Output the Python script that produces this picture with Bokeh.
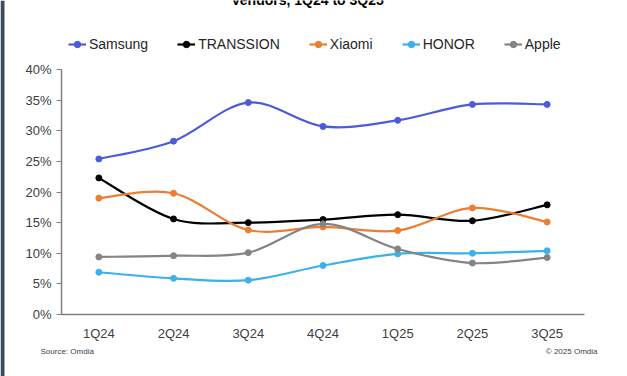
from bokeh.plotting import figure
from bokeh.models import (ColumnDataSource, Range1d, FixedTicker, NumeralTickFormatter,
                          Legend, LegendItem, Label, LinearAxis, BoxAnnotation)
from bokeh.embed import file_html
from bokeh.resources import INLINE

quarters = ["1Q24", "2Q24", "3Q24", "4Q24", "1Q25", "2Q25", "3Q25"]
samsung = [0.254, 0.283, 0.346, 0.307, 0.317, 0.343, 0.343]
transsion = [0.223, 0.156, 0.150, 0.155, 0.163, 0.153, 0.179]
xiaomi = [0.190, 0.198, 0.138, 0.143, 0.137, 0.174, 0.151]
honor = [0.069, 0.059, 0.056, 0.080, 0.099, 0.100, 0.104]
apple = [0.094, 0.096, 0.101, 0.148, 0.107, 0.084, 0.093]
y_ticks = [0, 0.05, 0.10, 0.15, 0.20, 0.25, 0.30, 0.35, 0.40]

series = [("Samsung", samsung, "#4B5BD9"),
          ("TRANSSION", transsion, "#000000"),
          ("Xiaomi", xiaomi, "#ED7D31"),
          ("HONOR", honor, "#3AB1EA"),
          ("Apple", apple, "#848484")]

title_text = "Vendors, 1Q24 to 3Q25"
footnotes = ["Source: Omdia", "\u00a9 2025 Omdia"]

FONT = "Liberation Sans"
W, H = 627, 376
# frame covers the whole canvas; plot area maps to px [61..584] x [69..314]
XPX = 523 / 7.0
YPX = 245 / 0.40
x_range = Range1d(-61 / XPX, (W - 61) / XPX)
y_range = Range1d(-(H - 314) / YPX, 314 / YPX)

p = figure(width=W, height=H, output_backend="svg", toolbar_location=None,
           x_range=x_range, y_range=y_range,
           x_axis_location=None, y_axis_location=None,
           min_border_left=0, min_border_right=0, min_border_top=0, min_border_bottom=0)
p.outline_line_color = None
p.xgrid.grid_line_color = None
p.ygrid.grid_line_color = None
p.background_fill_color = "white"
p.border_fill_color = "white"

xs = [i + 0.5 for i in range(len(quarters))]

xaxis = LinearAxis(fixed_location=0, bounds=(0, len(quarters)),
                   ticker=FixedTicker(ticks=xs),
                   major_label_overrides={x: q for x, q in zip(xs, quarters)},
                   major_tick_line_color=None, minor_tick_line_color=None,
                   axis_line_color="#808080", axis_line_width=1.5,
                   major_label_text_font=FONT, major_label_text_font_size="13px",
                   major_label_text_color="#404040", major_label_standoff=5)
p.add_layout(xaxis, "below")

yaxis = LinearAxis(fixed_location=0, bounds=(0, 0.40),
                   ticker=FixedTicker(ticks=y_ticks),
                   formatter=NumeralTickFormatter(format="0%"),
                   minor_tick_line_color=None, major_tick_out=5, major_tick_in=0,
                   major_tick_line_color="#808080",
                   axis_line_color="#808080", axis_line_width=1.5,
                   major_label_text_font=FONT, major_label_text_font_size="13px",
                   major_label_text_color="#404040", major_label_standoff=5)
p.add_layout(yaxis, "left")

items = []
for name, vals, color in series:
    n = len(vals)
    x0, y0, x1, y1, cx0, cy0, cx1, cy1 = [], [], [], [], [], [], [], []
    for i in range(n - 1):
        pm = max(i - 1, 0)
        pn = min(i + 2, n - 1)
        x0.append(xs[i]); y0.append(vals[i])
        x1.append(xs[i + 1]); y1.append(vals[i + 1])
        cx0.append(xs[i] + (xs[i + 1] - xs[pm]) / 6)
        cy0.append(vals[i] + (vals[i + 1] - vals[pm]) / 6)
        cx1.append(xs[i + 1] - (xs[pn] - xs[i]) / 6)
        cy1.append(vals[i + 1] - (vals[pn] - vals[i]) / 6)
    src = ColumnDataSource(dict(x0=x0, y0=y0, x1=x1, y1=y1, cx0=cx0, cy0=cy0, cx1=cx1, cy1=cy1))
    b = p.bezier(x0="x0", y0="y0", x1="x1", y1="y1", cx0="cx0", cy0="cy0", cx1="cx1", cy1="cy1",
                 source=src, line_color=color, line_width=2.2)
    s = p.scatter(xs, vals, size=6, color=color, marker="circle")
    items.append(LegendItem(label=name, renderers=[b, s]))

legend = Legend(items=items, orientation="horizontal", location=(68, H - 52),
                label_text_font=FONT, label_text_font_size="14px", label_text_color="#262626",
                glyph_width=18, glyph_height=16, label_height=16, label_standoff=3, spacing=29,
                padding=0, margin=0, border_line_color=None, background_fill_alpha=0)
p.add_layout(legend, "center")

p.add_layout(Label(x=(307 - 61) / XPX, y=(314 + 1) / YPX, text=title_text, text_align="center",
                   text_baseline="alphabetic", text_font=FONT, text_font_size="14px",
                   text_font_style="bold", text_color="#000000"))

p.add_layout(Label(x=(40 - 61) / XPX, y=(314 - 351) / YPX, text=footnotes[0], text_align="left",
                   text_baseline="alphabetic", text_font=FONT, text_font_size="8px",
                   text_color="#404040"))
p.add_layout(Label(x=(597 - 61) / XPX, y=(314 - 351) / YPX, text=footnotes[1], text_align="right",
                   text_baseline="alphabetic", text_font=FONT, text_font_size="8px",
                   text_color="#404040"))

p.add_layout(BoxAnnotation(left=x_range.start, right=x_range.start + 4 / XPX,
                           bottom=y_range.start, top=y_range.end,
                           fill_color="#3C4B57", fill_alpha=1, line_color=None))

open("out.html", "w").write(file_html(p, INLINE))
